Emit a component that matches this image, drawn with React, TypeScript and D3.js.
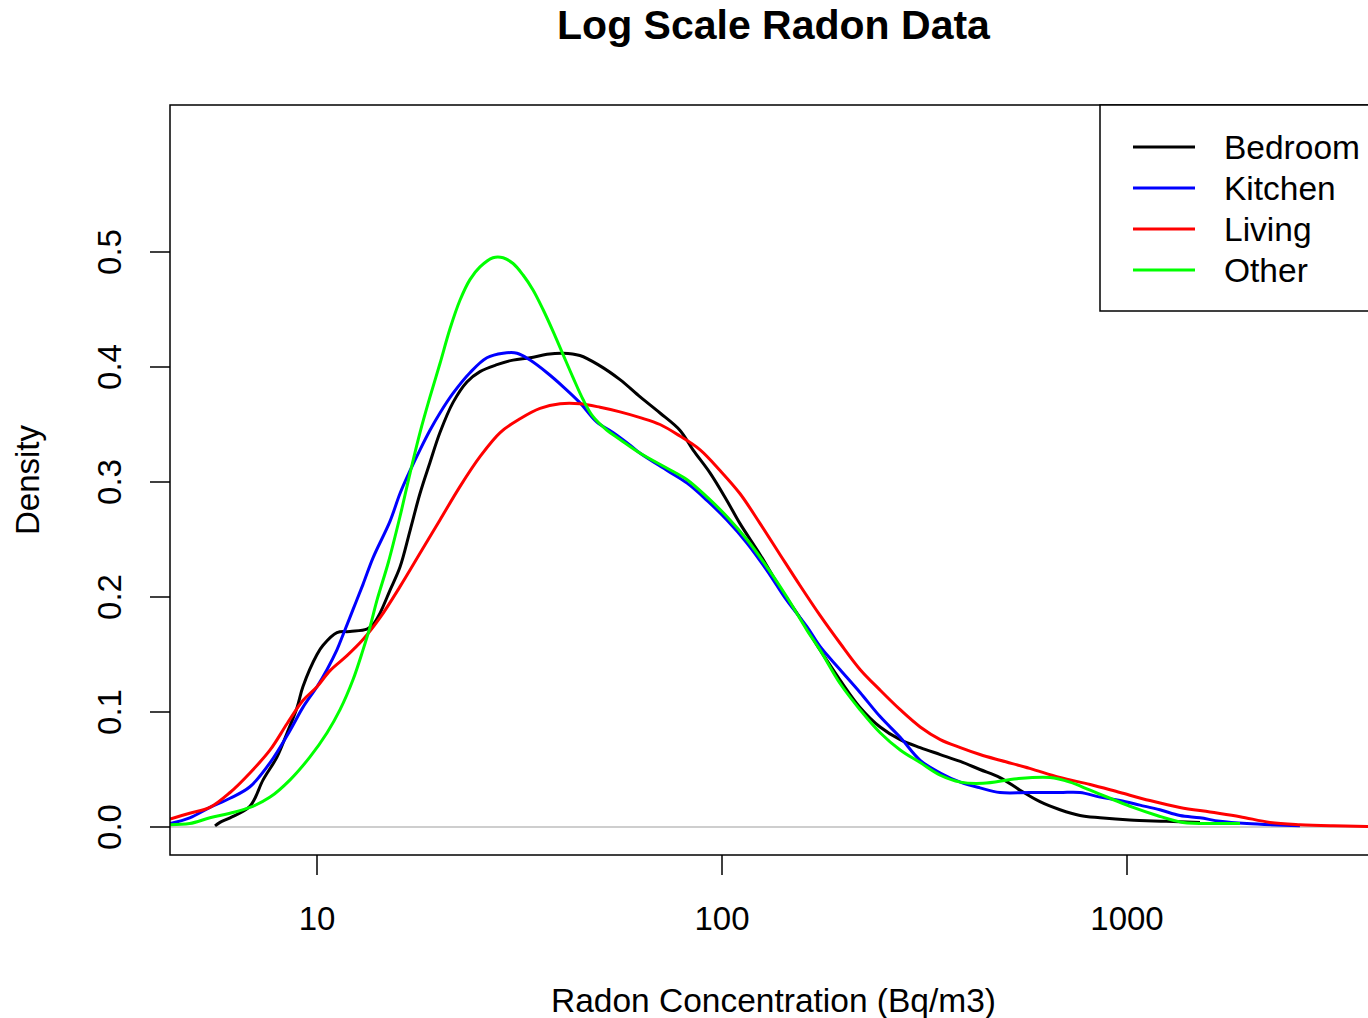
import React from "react";
import * as d3 from "d3";

const W = 1368;
const H = 1018;

const seriesNames = ["Bedroom", "Kitchen", "Living", "Other"];
const seriesColors = ["#000000", "#0000ff", "#ff0000", "#00ff00"];
const xTicks = [10, 100, 1000];
const yTicks = [0, 0.1, 0.2, 0.3, 0.4, 0.5];

// [radon Bq/m3, density]
const bedroom: [number, number][] = [
  [5.6, 0.001], [5.76, 0.004], [6.1, 0.008], [6.83, 0.018], [7.36, 0.041], [7.97, 0.061],
  [8.44, 0.082], [8.93, 0.104], [9.23, 0.122], [10, 0.15], [10.35, 0.158], [11.2, 0.169],
  [12.06, 0.17], [13.28, 0.172], [13.75, 0.176], [14.31, 0.186], [15.15, 0.206], [16.03, 0.226],
  [16.98, 0.258], [17.96, 0.29], [19.01, 0.317], [20.12, 0.343], [21.66, 0.369], [23.45, 0.387],
  [25.26, 0.396], [27.82, 0.402], [30.49, 0.406], [33.58, 0.408], [36.98, 0.411], [40.49, 0.412],
  [44.57, 0.41], [50, 0.401], [56, 0.389], [62.8, 0.374], [70.3, 0.36], [78.7, 0.345],
  [84.8, 0.328], [93.4, 0.308], [102.8, 0.284], [110.7, 0.264], [124.1, 0.237], [139, 0.208],
  [155.8, 0.182], [174.6, 0.154], [195.5, 0.128], [219.2, 0.104], [245.7, 0.087], [275.4, 0.076],
  [308.6, 0.069], [345.9, 0.063], [387.7, 0.057], [433.5, 0.05], [485.7, 0.043], [544.5, 0.032],
  [609.7, 0.022], [683.4, 0.015], [765.6, 0.01], [858, 0.008], [1016, 0.006], [1250, 0.005],
  [1514, 0.004],
];

const kitchen: [number, number][] = [
  [4.34, 0.003], [4.85, 0.008], [5.44, 0.017], [6.1, 0.025], [6.83, 0.035], [7.66, 0.056],
  [8.58, 0.084], [9.23, 0.104], [10, 0.122], [10.59, 0.137], [11.2, 0.154], [11.59, 0.167],
  [12.27, 0.189], [12.99, 0.211], [13.75, 0.234], [15.15, 0.266], [16.03, 0.29],
  [16.98, 0.31], [17.96, 0.328], [19.01, 0.345], [20.12, 0.36], [21.66, 0.377], [23.86, 0.395],
  [26.27, 0.408], [28.81, 0.412], [31.18, 0.412], [33.58, 0.406], [36.98, 0.395], [40.49, 0.383],
  [44.57, 0.369], [49.1, 0.352], [53.8, 0.343], [59.3, 0.332], [62.8, 0.325], [73.2, 0.31],
  [82, 0.299], [91.8, 0.284], [102.8, 0.267], [115.2, 0.247], [129.2, 0.223], [144.6, 0.197],
  [162.2, 0.174], [174.6, 0.157], [195.5, 0.137], [219.2, 0.117], [245.7, 0.096], [275.4, 0.078],
  [308.6, 0.058], [345.9, 0.047], [387.7, 0.039], [433.5, 0.034], [485.7, 0.03], [575, 0.03],
  [683, 0.03], [765.6, 0.03], [858, 0.026], [961, 0.023], [1076, 0.019], [1205, 0.015],
  [1351, 0.01], [1514, 0.008], [1697, 0.005], [1977, 0.003], [2673, 0.001],
];

const living: [number, number][] = [
  [4.34, 0.007], [4.85, 0.012], [5.44, 0.017], [6.1, 0.03], [6.83, 0.047], [7.66, 0.067],
  [8.44, 0.09], [9.23, 0.11], [10, 0.122], [10.77, 0.136], [11.86, 0.149], [12.99, 0.163],
  [14.31, 0.182], [16.03, 0.209], [17.96, 0.238], [20.12, 0.267], [22.54, 0.296], [25.26, 0.322],
  [28.33, 0.343], [31.72, 0.355], [35.54, 0.364], [39.84, 0.368], [44.57, 0.368], [50, 0.365],
  [56, 0.361], [62.8, 0.356], [70.3, 0.35], [78.7, 0.34], [88.3, 0.328], [98.9, 0.31],
  [110.7, 0.29], [124.1, 0.264], [139, 0.237], [155.8, 0.21], [174.6, 0.184], [195.5, 0.16],
  [219.2, 0.137], [245.7, 0.119], [275.4, 0.102], [308.6, 0.087], [345.9, 0.076], [387.7, 0.069],
  [433.5, 0.063], [485.7, 0.058], [575, 0.051], [683, 0.043], [811, 0.037], [961, 0.03],
  [1139, 0.023], [1351, 0.017], [1603, 0.013], [1901, 0.009], [2255, 0.004], [2673, 0.002],
  [3225, 0.001], [3917, 0.0005], [4300, 0.0003],
];

const other: [number, number][] = [
  [4.34, 0.002], [4.85, 0.003], [5.44, 0.008], [6.1, 0.012], [6.83, 0.017], [7.66, 0.026],
  [8.58, 0.041], [9.61, 0.061], [10.59, 0.082], [11.4, 0.102], [12.27, 0.128], [12.99, 0.154],
  [13.52, 0.174], [14.06, 0.197], [15.0, 0.23], [16.03, 0.27], [16.98, 0.308], [17.96, 0.343],
  [19.01, 0.374], [20.12, 0.403], [21.29, 0.433], [22.54, 0.458], [23.86, 0.476], [25.26, 0.487],
  [27.2, 0.495], [28.81, 0.495], [30.49, 0.49], [32.27, 0.48], [34.15, 0.467], [36.15, 0.45],
  [38.27, 0.431], [40.49, 0.411], [42.85, 0.391], [45.35, 0.372], [48, 0.357], [52, 0.345],
  [56, 0.337], [62.8, 0.325], [73.2, 0.312], [82, 0.302], [91.8, 0.287], [102.8, 0.27],
  [115.2, 0.25], [129.2, 0.226], [144.6, 0.2], [162.2, 0.171], [174.6, 0.154], [195.5, 0.125],
  [219.2, 0.102], [245.7, 0.082], [275.4, 0.067], [308.6, 0.056], [345.9, 0.045], [387.7, 0.039],
  [441, 0.038], [535, 0.042], [645.5, 0.043], [723, 0.039], [811, 0.032], [908, 0.025],
  [1035, 0.017], [1186, 0.01], [1374, 0.004], [1667, 0.003], [1901, 0.003],
];

const seriesData = [bedroom, kitchen, living, other];

const FONT = "'Liberation Sans', Arial, sans-serif";

export default function App() {
  const plotL = 170;
  const plotR = 1377;
  const plotT = 105;
  const plotB = 855;

  const x = d3.scaleLog().domain([10, 1000]).range([317, 1127]);
  const y = d3.scaleLinear().domain([0, 0.5]).range([827, 252]);

  const line = d3
    .line<[number, number]>()
    .x((d) => x(d[0]))
    .y((d) => y(d[1]))
    .curve(d3.curveCatmullRom.alpha(0.5));

  const legendX = 1100;
  const legendY0 = 147;
  const legendStep = 41;

  return (
    <svg
      width={W}
      height={H}
      style={{ position: "absolute", left: 0, top: 0, background: "#fff" }}
      fontFamily={FONT}
    >
      <rect x={0} y={0} width={W} height={H} fill="#fff" />
      <defs>
        <clipPath id="plotclip">
          <rect x={plotL} y={plotT} width={plotR - plotL} height={plotB - plotT} />
        </clipPath>
      </defs>

      {/* title */}
      <text x={(plotL + plotR) / 2} y={39} textAnchor="middle" fontSize={41} fontWeight="bold" fill="#000">
        Log Scale Radon Data
      </text>

      {/* zero line */}
      <line x1={plotL} x2={plotR} y1={y(0)} y2={y(0)} stroke="#bebebe" strokeWidth={1.5} />

      {/* density curves */}
      <g clipPath="url(#plotclip)">
        {seriesData.map((s, i) => (
          <path
            key={seriesNames[i]}
            d={line(s) || ""}
            fill="none"
            stroke={seriesColors[i]}
            strokeWidth={3}
            strokeLinejoin="round"
          />
        ))}
      </g>

      {/* frame */}
      <rect x={plotL} y={plotT} width={plotR - plotL} height={plotB - plotT} fill="none" stroke="#000" strokeWidth={1.5} />

      {/* y axis */}
      {yTicks.map((t) => (
        <g key={"y" + t}>
          <line x1={150} x2={plotL} y1={y(t)} y2={y(t)} stroke="#000" strokeWidth={1.5} />
          <text
            transform={`translate(121,${y(t)}) rotate(-90)`}
            textAnchor="middle"
            fontSize={33}
            fill="#000"
          >
            {t.toFixed(1)}
          </text>
        </g>
      ))}
      <text transform={`translate(39,480) rotate(-90)`} textAnchor="middle" fontSize={33} fill="#000">
        Density
      </text>

      {/* x axis */}
      {xTicks.map((t) => (
        <g key={"x" + t}>
          <line x1={x(t)} x2={x(t)} y1={plotB} y2={875} stroke="#000" strokeWidth={1.5} />
          <text x={x(t)} y={930} textAnchor="middle" fontSize={33} fill="#000">
            {String(t)}
          </text>
        </g>
      ))}
      <text x={(plotL + plotR) / 2} y={1012} textAnchor="middle" fontSize={33.5} fill="#000">
        Radon Concentration (Bq/m3)
      </text>

      {/* legend */}
      <rect x={legendX} y={plotT} width={plotR - legendX} height={311 - plotT} fill="#fff" stroke="#000" strokeWidth={1.5} />
      {seriesNames.map((n, i) => (
        <g key={"lg" + n}>
          <line
            x1={1133}
            x2={1195}
            y1={legendY0 + i * legendStep}
            y2={legendY0 + i * legendStep}
            stroke={seriesColors[i]}
            strokeWidth={3}
          />
          <text x={1224} y={legendY0 + i * legendStep + 12} fontSize={33.5} fill="#000">
            {n}
          </text>
        </g>
      ))}
    </svg>
  );
}
